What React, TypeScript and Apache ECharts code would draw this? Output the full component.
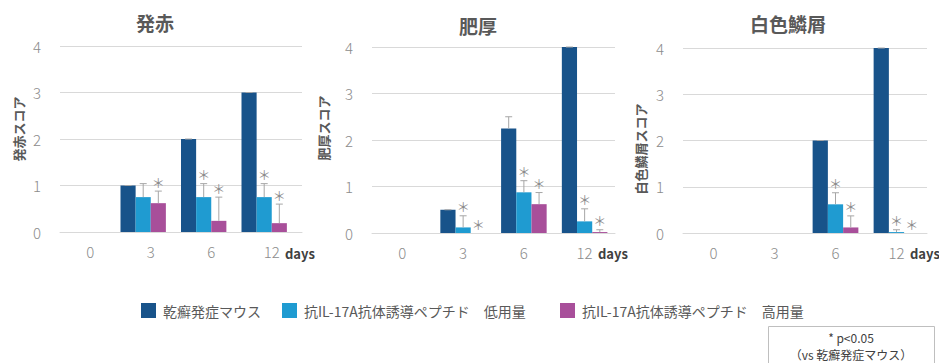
import React, { useEffect, useRef } from "react";
import * as echarts from "echarts";

const FONT = '"Noto Sans CJK JP", "Noto Sans", sans-serif';

// Observation days
const days = ["0", "3", "6", "12"];

const seriesNames = [
  "乾癬発症マウス",
  "抗IL-17A抗体誘導ペプチド　低用量",
  "抗IL-17A抗体誘導ペプチド　高用量",
];
const seriesColors = ["#18538a", "#1f9bd1", "#a84f9a"];

const panelTitles = ["発赤", "肥厚", "白色鱗屑"];
const axisNames = ["発赤スコア", "肥厚スコア", "白色鱗屑スコア"];

// 発赤 (redness) scores: mean, SD, significance
const rednessPsoriasis = [0, 1.0, 2.0, 3.0];
const rednessPsoriasisErr = [0, 0, 0, 0];
const rednessLow = [0, 0.75, 0.75, 0.75];
const rednessLowErr = [0, 0.29, 0.29, 0.29];
const rednessLowSig = [false, false, true, true];
const rednessHigh = [0, 0.62, 0.24, 0.19];
const rednessHighErr = [0, 0.26, 0.51, 0.41];
const rednessHighSig = [false, true, true, true];

// 肥厚 (thickening) scores
const thickPsoriasis = [0, 0.5, 2.25, 4.0];
const thickPsoriasisErr = [0, 0, 0.25, 0];
const thickLow = [0, 0.12, 0.875, 0.25];
const thickLowErr = [0, 0.25, 0.25, 0.27];
const thickLowSig = [false, true, true, true];
const thickHigh = [0, 0, 0.62, 0.02];
const thickHighErr = [0, 0, 0.25, 0.05];
const thickHighSig = [false, true, true, true];

// 白色鱗屑 (scaling) scores
const scalePsoriasis = [0, 0, 2.0, 4.0];
const scalePsoriasisErr = [0, 0, 0, 0];
const scaleLow = [0, 0, 0.62, 0.02];
const scaleLowErr = [0, 0, 0.25, 0.05];
const scaleLowSig = [false, false, true, true];
const scaleHigh = [0, 0, 0.12, 0];
const scaleHighErr = [0, 0, 0.25, 0];
const scaleHighSig = [false, false, true, true];

const noSig = [false, false, false, false];

const panels = [
  {
    values: [rednessPsoriasis, rednessLow, rednessHigh],
    errors: [rednessPsoriasisErr, rednessLowErr, rednessHighErr],
    sig: [noSig, rednessLowSig, rednessHighSig],
    slots: 4,
  },
  {
    values: [thickPsoriasis, thickLow, thickHigh],
    errors: [thickPsoriasisErr, thickLowErr, thickHighErr],
    sig: [noSig, thickLowSig, thickHighSig],
    slots: 3,
  },
  {
    values: [scalePsoriasis, scaleLow, scaleHigh],
    errors: [scalePsoriasisErr, scaleLowErr, scaleHighErr],
    sig: [noSig, scaleLowSig, scaleHighSig],
    slots: 3,
  },
];

const grids = [
  { left: 60, top: 46, width: 242, height: 186 },
  { left: 372, top: 47, width: 243, height: 186 },
  { left: 683, top: 48, width: 244, height: 185 },
];

const titlePos = [
  [155, 22],
  [478, 25],
  [788, 23],
];
const axisNamePos = [
  [18, 129],
  [323, 128],
  [640, 149],
];
const daysPos = [285, 598, 910];

export default function App() {
  const ref = useRef<HTMLDivElement>(null);

  useEffect(() => {
    document.body.style.margin = "0";
    if (!ref.current) return;
    const chart = echarts.init(ref.current, null, { renderer: "svg" });

    const series: any[] = [];
    panels.forEach((panel, p) => {
      const gapCfg =
        panel.slots === 4
          ? { barGap: "0%", barCategoryGap: "0%" }
          : { barGap: "0%", barCategoryGap: "25%" };
      panel.values.forEach((vals, s) => {
        series.push({
          type: "bar",
          name: seriesNames[s],
          xAxisIndex: p,
          yAxisIndex: p,
          data: vals,
          itemStyle: { color: seriesColors[s] },
          ...gapCfg,
        });
      });
      if (panel.slots === 4) {
        // empty fourth slot in each group
        series.push({
          type: "bar",
          name: "_blank",
          xAxisIndex: p,
          yAxisIndex: p,
          data: ["-", "-", "-", "-"],
          ...gapCfg,
        });
      }
      panel.values.forEach((vals, s) => {
        const errs = panel.errors[s];
        const sigs = panel.sig[s];
        series.push({
          type: "custom",
          xAxisIndex: p,
          yAxisIndex: p,
          z: 5,
          silent: true,
          data: vals.map((v, i) => [i, v, errs[i], sigs[i] ? 1 : 0]),
          renderItem: (params: any, api: any) => {
            const ci = api.value(0);
            const v = api.value(1);
            const e = api.value(2);
            const sig = api.value(3);
            const base = api.coord([ci, v]);
            const band = api.size([1, 0])[0];
            const barW = panel.slots === 4 ? band / 4 : (band * 0.75) / 3;
            const offset =
              panel.slots === 4 ? (s - 1.5) * barW : (s - 1) * barW;
            const x = base[0] + offset;
            const top = api.coord([ci, v + e])[1];
            const children: any[] = [];
            const lineStyle = { stroke: "#a6a6a6", lineWidth: 1 };
            if (v > 0) {
              children.push({
                type: "line",
                shape: { x1: x, y1: base[1], x2: x, y2: top },
                style: lineStyle,
              });
              children.push({
                type: "line",
                shape: { x1: x - 3.5, y1: top, x2: x + 3.5, y2: top },
                style: lineStyle,
              });
            }
            if (sig) {
              children.push({
                type: "text",
                x: x,
                y: top - 9,
                style: {
                  text: "＊",
                  fill: "#8c8c8c",
                  font: `13px ${FONT}`,
                  align: "center",
                  verticalAlign: "middle",
                },
              });
            }
            return { type: "group", children };
          },
        });
      });
    });

    const graphics: any[] = [];
    panelTitles.forEach((t, i) => {
      graphics.push({
        type: "text",
        x: titlePos[i][0],
        y: titlePos[i][1],
        style: {
          text: t,
          fill: "#595959",
          font: `bold 19px ${FONT}`,
          align: "center",
          verticalAlign: "middle",
        },
      });
      graphics.push({
        type: "text",
        x: axisNamePos[i][0],
        y: axisNamePos[i][1],
        rotation: Math.PI / 2,
        style: {
          text: axisNames[i],
          fill: "#595959",
          font: `bold 13px ${FONT}`,
          align: "center",
          verticalAlign: "middle",
        },
      });
      graphics.push({
        type: "text",
        x: daysPos[i],
        y: 253,
        style: {
          text: "days",
          fill: "#404040",
          font: `bold 13px ${FONT}`,
          align: "left",
          verticalAlign: "middle",
        },
      });
    });
    graphics.push({
      type: "rect",
      shape: { x: 768.5, y: 326.5, width: 166, height: 50 },
      style: { fill: "#fff", stroke: "#bfbfbf", lineWidth: 1 },
    });
    graphics.push({
      type: "text",
      x: 851,
      y: 337,
      style: {
        text: "* p<0.05",
        fill: "#404040",
        font: `12px ${FONT}`,
        align: "center",
        verticalAlign: "middle",
      },
    });
    graphics.push({
      type: "text",
      x: 851,
      y: 354,
      style: {
        text: "（vs 乾癬発症マウス）",
        fill: "#404040",
        font: `12px ${FONT}`,
        align: "center",
        verticalAlign: "middle",
      },
    });

    const legendLefts = [136, 277, 555];
    const legends = seriesNames.map((n, i) => ({
      left: legendLefts[i],
      top: 298,
      itemWidth: 15,
      itemHeight: 15,
      icon: "rect",
      selectedMode: false,
      data: [n],
      textStyle: {
        color: "#595959",
        fontSize: 14,
        fontFamily: FONT,
        padding: [0, 0, 0, 2],
      },
    }));

    chart.setOption({
      animation: false,
      textStyle: { fontFamily: FONT },
      grid: grids.map((g) => ({ ...g, containLabel: false })),
      legend: legends,
      xAxis: grids.map((_, i) => ({
        type: "category",
        gridIndex: i,
        data: days,
        axisTick: { show: false },
        axisLine: { lineStyle: { color: "#d9d9d9" } },
        axisLabel: {
          color: "#8c8c8c",
          fontSize: 15,
          fontWeight: 300,
          margin: 12,
          fontFamily: FONT,
        },
      })),
      yAxis: grids.map((_, i) => ({
        type: "value",
        gridIndex: i,
        min: 0,
        max: 4,
        interval: 1,
        axisLine: { show: false },
        axisTick: { show: false },
        splitLine: { lineStyle: { color: "#d9d9d9" } },
        axisLabel: {
          color: "#8c8c8c",
          fontSize: 15,
          fontWeight: 300,
          margin: 19,
          fontFamily: FONT,
        },
      })),
      series,
      graphic: graphics,
    });

    return () => chart.dispose();
  }, []);

  return <div ref={ref} style={{ width: 939, height: 363 }} />;
}
